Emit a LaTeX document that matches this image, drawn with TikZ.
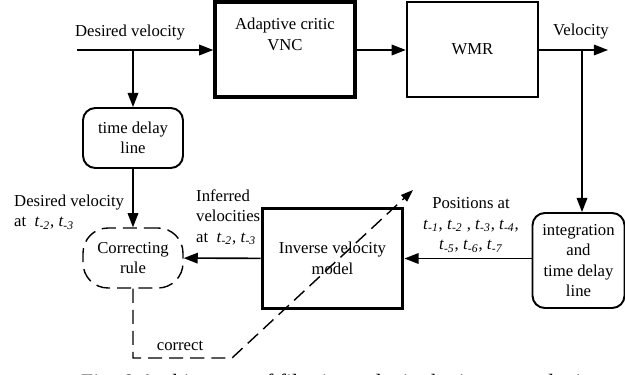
\documentclass[tikz,border=0pt]{standalone}
\usepackage{fontspec}
\setmainfont{Liberation Serif}
\usetikzlibrary{arrows.meta,positioning}
\newcommand{\tdel}[1]{\textit{t}\textsubscript{\textit{#1}}}

\begin{document}
\begin{tikzpicture}[x=0.02cm, y=-0.02cm, font=\fontsize{9.5}{11.7}\selectfont,
	block/.style={draw, line width=1.7pt, align=center},
	delaybox/.style={draw, line width=1.1pt, rounded corners=7pt, align=center},
	flow/.style={-{Triangle[length=8pt,width=6pt]}, line width=0.9pt},
	corrline/.style={line width=0.8pt, dash pattern=on 8pt off 4pt}]
	\useasboundingbox (0,0) rectangle (625,375);
	\clip (0,0) rectangle (625,375);

	% forward path
	\node[block, line width=2pt, minimum width=2.8cm, minimum height=1.9cm] (vnc) at (285,49.5) {Adaptive critic\\VNC\\[6pt]};
	\node[block, line width=1.4pt, minimum width=2.62cm, minimum height=1.9cm] (wmr) at (472.5,49.5) {WMR};
	\coordinate (in) at (77,50);
	\coordinate (out) at (608,50);
	\coordinate (split) at (133,50);
	\coordinate (tap) at (582,50);
	\draw[flow] (in) -- (in -| vnc.west);
	\draw[flow] (vnc.east |- in) -- (in -| wmr.west);
	\draw[flow] (wmr.east |- out) -- (out);
	\node (desvel) at (130,33) {Desired velocity};
	\node (vel) at (581,32) {Velocity};

	% feedback part
	\node[delaybox, minimum width=2cm, minimum height=1.2cm] (tdl) at (133,138) {time delay\\line};
	\node[delaybox, corrline, rounded corners=0.5cm, minimum width=2cm, minimum height=1.2cm] (rule) at (133,258) {Correcting\\rule};
	\node[block, minimum width=2.82cm, minimum height=2cm] (inv) at (332.5,258.5) {Inverse velocity\\model};
	\node[delaybox, minimum width=1.84cm, minimum height=1.9cm] (integ) at (578.5,260.5) {integration\\and\\time delay\\line};
	\draw[flow] (split) -- (tdl);
	\draw[flow] (tdl) -- (rule);
	\draw[flow] (tap) -- (tap |- integ.north);
	\draw[flow] (integ.west |- inv.east) -- (inv);
	\draw[flow] (inv) -- (rule);

	\node[anchor=west, align=left] (deslab) at (8,212) {Desired velocity\\at \ \tdel{-2}, \tdel{-3}};
	\node[anchor=west, align=left] (inflab) at (190,217) {Inferred\\velocities\\at \ \tdel{-2}, \tdel{-3}};
	\node[align=center] (poslab) at (471,225) {Positions at\\\tdel{-1}, \tdel{-2} , \tdel{-3}, \tdel{-4},\\\tdel{-5}, \tdel{-6}, \tdel{-7}};

	% correction signal
	\coordinate (low) at (133,358);
	\coordinate (turn) at (232,358);
	\coordinate (tip) at (413,190);
	\draw[corrline, -{Triangle[length=7pt,width=5pt]}] (rule) -- (low) -- (turn) -- (tip);
	\node (corr) at (180,346) {correct};

	\node[anchor=base west, font=\fontsize{12.5}{14}\selectfont] (cap) at (75,389) {Fig. 8 Architecture of filtering velocity by inverse velocity model};
\end{tikzpicture}
\end{document}
